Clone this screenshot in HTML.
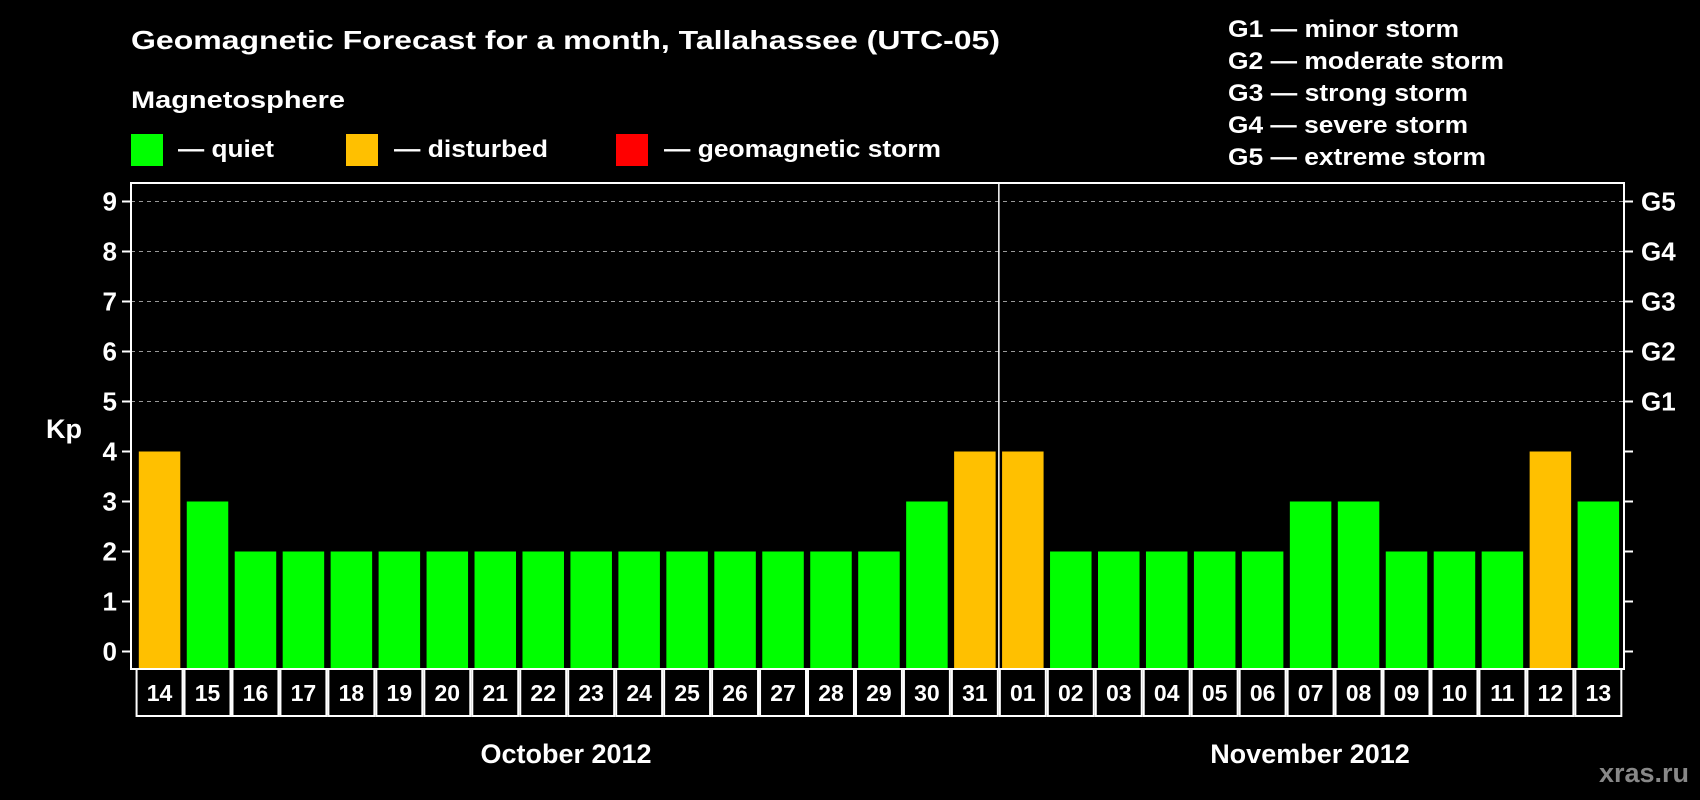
<!DOCTYPE html>
<html><head><meta charset="utf-8"><style>
html,body{margin:0;padding:0;background:#000;}
svg{display:block;font-family:"Liberation Sans",Arial,sans-serif;font-weight:bold;}
</style></head><body>
<svg id="chart" width="1700" height="800" viewBox="0 0 1700 800">
<rect x="0" y="0" width="1700" height="800" fill="#000"/>
<text x="131" y="49" fill="#fff" font-size="26" textLength="869" lengthAdjust="spacingAndGlyphs">Geomagnetic Forecast for a month, Tallahassee (UTC-05)</text>
<text x="131" y="108" fill="#fff" font-size="24" textLength="214" lengthAdjust="spacingAndGlyphs">Magnetosphere</text>
<g>
<rect x="131" y="134" width="32" height="32" fill="#00ff00"/>
<text x="178" y="157" fill="#fff" font-size="24" textLength="96" lengthAdjust="spacingAndGlyphs">— quiet</text>
</g>
<g>
<rect x="346" y="134" width="32" height="32" fill="#ffc000"/>
<text x="394" y="157" fill="#fff" font-size="24" textLength="154" lengthAdjust="spacingAndGlyphs">— disturbed</text>
</g>
<g>
<rect x="616" y="134" width="32" height="32" fill="#ff0000"/>
<text x="664" y="157" fill="#fff" font-size="24" textLength="277" lengthAdjust="spacingAndGlyphs">— geomagnetic storm</text>
</g>
<g fill="#fff" font-size="24">
<text x="1228" y="37" textLength="231" lengthAdjust="spacingAndGlyphs">G1 — minor storm</text>
<text x="1228" y="69" textLength="276" lengthAdjust="spacingAndGlyphs">G2 — moderate storm</text>
<text x="1228" y="101" textLength="240" lengthAdjust="spacingAndGlyphs">G3 — strong storm</text>
<text x="1228" y="133" textLength="240" lengthAdjust="spacingAndGlyphs">G4 — severe storm</text>
<text x="1228" y="165" textLength="258" lengthAdjust="spacingAndGlyphs">G5 — extreme storm</text>
</g>
<text x="64" y="438" fill="#fff" font-size="27" text-anchor="middle">Kp</text>
<g id="grid"></g>
<g id="bars"></g>
<g id="axes"></g>
<text x="566" y="763" fill="#fff" font-size="27" text-anchor="middle">October 2012</text>
<text x="1310" y="763" fill="#fff" font-size="27" text-anchor="middle">November 2012</text>
<text x="1644" y="782" fill="#888" font-size="27" text-anchor="middle">xras.ru</text>
</svg>
<script>
const days = ["14","15","16","17","18","19","20","21","22","23","24","25","26","27","28","29","30","31","01","02","03","04","05","06","07","08","09","10","11","12","13"];
const kpValues = [4,3,2,2,2,2,2,2,2,2,2,2,2,2,2,2,3,4,4,2,2,2,2,2,3,3,2,2,2,4,3];
const yTicks = [0,1,2,3,4,5,6,7,8,9];
const gLabels = ["G1","G2","G3","G4","G5"];
const gLevels = [5,6,7,8,9];
const monthBreakIndex = 18;

const NS = "http://www.w3.org/2000/svg";
const plotL = 131, plotR = 1624, plotT = 183, plotB = 669;
const y0 = 651.5, unit = 50;
const x0 = 138.8, step = 47.96, barW = 41.5;
function yScale(v){ return y0 - v * unit; }
function xScale(i){ return x0 + i * step; }
function mk(tag, attrs, parent){
  const el = document.createElementNS(NS, tag);
  for (const k in attrs) el.setAttribute(k, attrs[k]);
  parent.appendChild(el);
  return el;
}
const grid = document.getElementById("grid");
const bars = document.getElementById("bars");
const axes = document.getElementById("axes");

gLevels.forEach(function(v){
  const l = mk("line", {x1: plotL, x2: plotR, y1: yScale(v), y2: yScale(v), stroke: "#999", "stroke-width": 1, "stroke-dasharray": "4,4"}, grid);
  
  
});

kpValues.forEach(function(v, i){
  const color = v >= 5 ? "#ff0000" : (v >= 4 ? "#ffc000" : "#00ff00");
  const r = mk("rect", {x: xScale(i), y: yScale(v), width: barW, height: plotB - yScale(v), fill: color}, bars);
  
  
});

const frame = mk("rect", {x: plotL, y: plotT, width: plotR - plotL, height: plotB - plotT, fill: "none", stroke: "#fff", "stroke-width": 2}, axes);



const sepX = xScale(monthBreakIndex) - (step - barW) / 2;
const sep = mk("line", {x1: sepX, x2: sepX, y1: plotT, y2: plotB, stroke: "#fff", "stroke-width": 1.5}, axes);



yTicks.forEach(function(v){
  const t = mk("line", {x1: plotL - 9, x2: plotL, y1: yScale(v), y2: yScale(v), stroke: "#fff", "stroke-width": 2}, axes);
  
  
  const t2 = mk("line", {x1: plotR, x2: plotR + 9, y1: yScale(v), y2: yScale(v), stroke: "#fff", "stroke-width": 2}, axes);
  
  
  const lb = mk("text", {x: 117, y: yScale(v) + 9, fill: "#fff", "font-size": 26, "text-anchor": "end"}, axes);
  lb.textContent = v;
  
  
});

gLabels.forEach(function(g, i){
  const lb = mk("text", {x: 1641, y: yScale(gLevels[i]) + 9, fill: "#fff", "font-size": 26}, axes);
  lb.textContent = g;
  
  
});

const boxTop = plotB, boxBot = 716;
days.forEach(function(d, i){
  const cx = xScale(i) + barW / 2;
  const c = mk("rect", {x: cx - step / 2 + 1, y: boxTop, width: step - 2, height: boxBot - boxTop, fill: "#000", stroke: "#fff", "stroke-width": 2}, axes);
  
  
  const t = mk("text", {x: cx, y: 701, fill: "#fff", "font-size": 23, "text-anchor": "middle"}, axes);
  t.textContent = d;
  
  
});
</script>
</body></html>
